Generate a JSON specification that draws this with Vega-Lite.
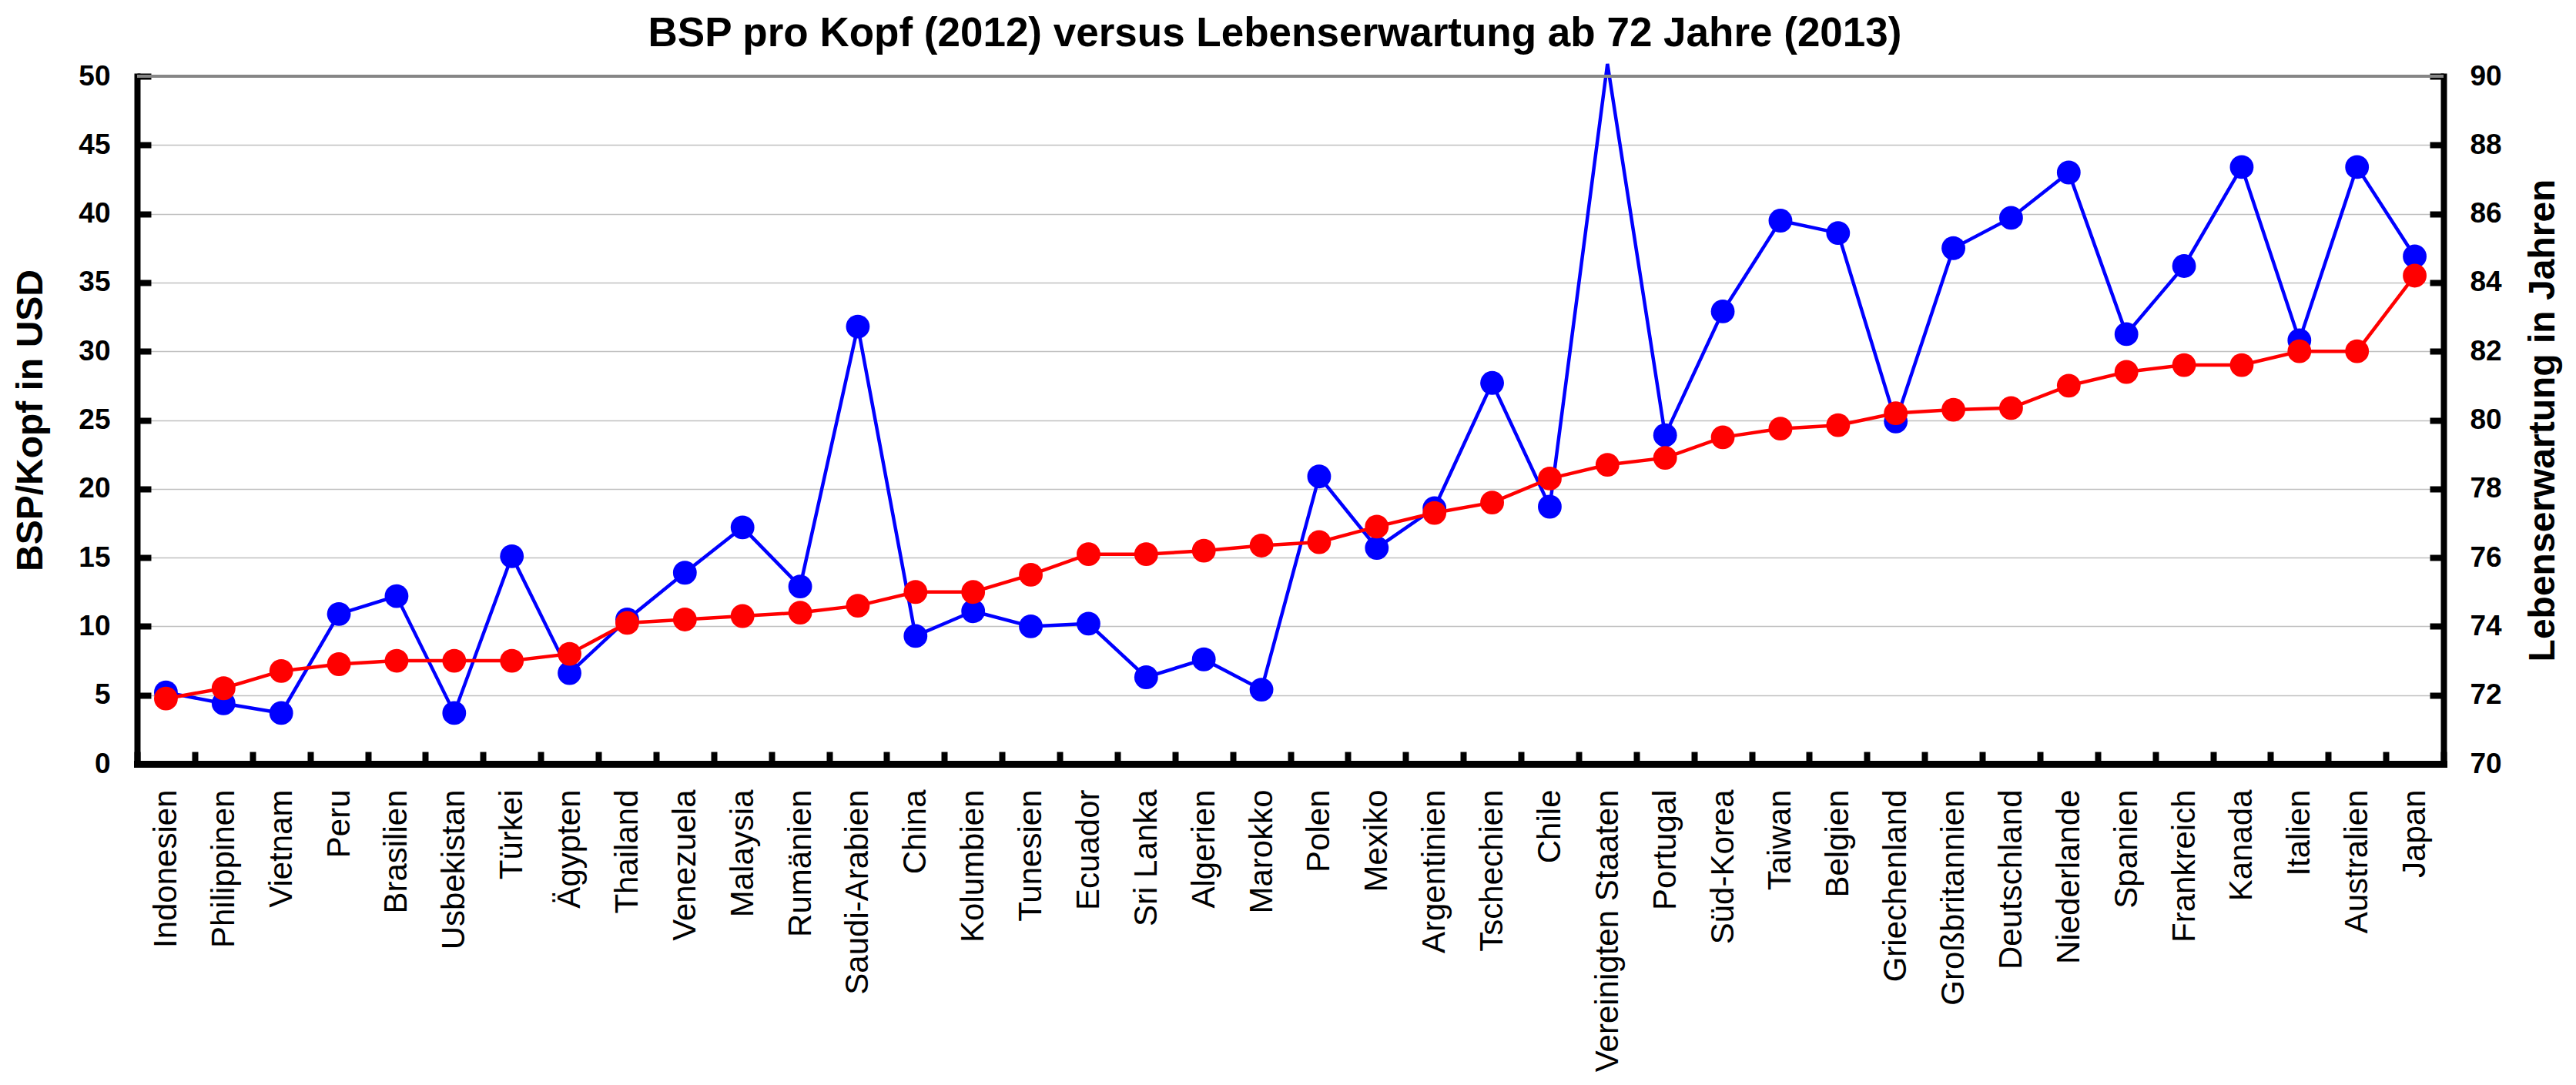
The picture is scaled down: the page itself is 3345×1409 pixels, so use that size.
{
  "$schema": "https://vega.github.io/schema/vega-lite/v6.json",
  "width": 2995,
  "height": 893,
  "autosize": {"type": "none"},
  "padding": {"left": 178, "top": 99, "right": 172, "bottom": 417},
  "background": "white",
  "title": {
    "text": "BSP pro Kopf (2012) versus Lebenserwartung ab 72 Jahre (2013)",
    "font": "Liberation Sans",
    "fontSize": 53,
    "fontWeight": "bold",
    "color": "black",
    "anchor": "middle",
    "dx": -20,
    "dy": 56,
    "offset": 17,
    "baseline": "alphabetic"
  },
  "config": {
    "view": {"stroke": null},
    "axis": {
      "labelFont": "Liberation Sans",
      "titleFont": "Liberation Sans",
      "labelColor": "black",
      "titleColor": "black",
      "domainColor": "black",
      "tickColor": "black",
      "domainWidth": 8,
      "tickWidth": 8,
      "domainCap": "square"
    }
  },
  "datasets": {
    "laender": [
      {"land": "Indonesien", "bsp": 5.2, "le": 71.9},
      {"land": "Philippinen", "bsp": 4.4, "le": 72.2},
      {"land": "Vietnam", "bsp": 3.7, "le": 72.7},
      {"land": "Peru", "bsp": 10.9, "le": 72.9},
      {"land": "Brasilien", "bsp": 12.2, "le": 73.0},
      {"land": "Usbekistan", "bsp": 3.7, "le": 73.0},
      {"land": "Türkei", "bsp": 15.1, "le": 73.0},
      {"land": "Ägypten", "bsp": 6.6, "le": 73.2},
      {"land": "Thailand", "bsp": 10.5, "le": 74.1},
      {"land": "Venezuela", "bsp": 13.9, "le": 74.2},
      {"land": "Malaysia", "bsp": 17.2, "le": 74.3},
      {"land": "Rumänien", "bsp": 12.9, "le": 74.4},
      {"land": "Saudi-Arabien", "bsp": 31.8, "le": 74.6},
      {"land": "China", "bsp": 9.3, "le": 75.0},
      {"land": "Kolumbien", "bsp": 11.1, "le": 75.0},
      {"land": "Tunesien", "bsp": 10.0, "le": 75.5},
      {"land": "Ecuador", "bsp": 10.2, "le": 76.1},
      {"land": "Sri Lanka", "bsp": 6.3, "le": 76.1},
      {"land": "Algerien", "bsp": 7.6, "le": 76.2},
      {"land": "Marokko", "bsp": 5.4, "le": 76.35},
      {"land": "Polen", "bsp": 20.9, "le": 76.45},
      {"land": "Mexiko", "bsp": 15.7, "le": 76.9},
      {"land": "Argentinien", "bsp": 18.6, "le": 77.3},
      {"land": "Tschechien", "bsp": 27.7, "le": 77.6},
      {"land": "Chile", "bsp": 18.7, "le": 78.3},
      {"land": "Vereinigten Staaten", "bsp": 50.9, "le": 78.7},
      {"land": "Portugal", "bsp": 23.9, "le": 78.9},
      {"land": "Süd-Korea", "bsp": 32.9, "le": 79.5},
      {"land": "Taiwan", "bsp": 39.5, "le": 79.75},
      {"land": "Belgien", "bsp": 38.6, "le": 79.85},
      {"land": "Griechenland", "bsp": 24.9, "le": 80.2},
      {"land": "Großbritannien", "bsp": 37.5, "le": 80.3},
      {"land": "Deutschland", "bsp": 39.7, "le": 80.35},
      {"land": "Niederlande", "bsp": 43.0, "le": 81.0},
      {"land": "Spanien", "bsp": 31.25, "le": 81.4},
      {"land": "Frankreich", "bsp": 36.2, "le": 81.6},
      {"land": "Kanada", "bsp": 43.4, "le": 81.6},
      {"land": "Italien", "bsp": 30.8, "le": 82.0},
      {"land": "Australien", "bsp": 43.4, "le": 82.0},
      {"land": "Japan", "bsp": 36.9, "le": 84.2}
    ],
    "oben": [{"wert": 50}]
  },
  "data": {"name": "laender"},
  "layer": [
    {
      "layer": [
        {
          "mark": {"type": "line", "color": "#0000FF", "strokeWidth": 4.5},
          "encoding": {
            "x": {"field": "land", "type": "nominal", "sort": null, "scale": {"type": "band", "paddingInner": 0, "paddingOuter": 0},
              "axis": {"title": null, "labelAngle": -90, "labelFontSize": 42, "labelPadding": 49, "tickSize": -16, "tickWidth": 8, "domainWidth": 9, "domainColor": "black", "tickColor": "black", "tickBand": "extent", "labelLimit": 1000, "labelOverlap": false, "grid": false}},
            "y": {"field": "bsp", "type": "quantitative", "scale": {"domain": [0, 50], "nice": false, "zero": false},
              "axis": {"orient": "left", "title": "BSP/Kopf in USD", "titleFontSize": 48, "titleFontWeight": "bold", "titlePadding": 37, "labelFontSize": 37, "labelFontWeight": "bold", "labelPadding": 53, "tickSize": -18, "tickWidth": 8, "domainWidth": 8, "domainColor": "black", "tickColor": "black", "values": [0, 5, 10, 15, 20, 25, 30, 35, 40, 45, 50], "grid": true, "gridColor": "#c0c0c0", "gridWidth": 1.5}}
          }
        },
        {
          "transform": [{"filter": "datum.bsp <= 50"}],
          "mark": {"type": "point", "shape": "circle", "filled": true, "color": "#0000FF", "size": 950, "opacity": 1},
          "encoding": {
            "x": {"field": "land", "type": "nominal", "sort": null, "scale": {"type": "band", "paddingInner": 0, "paddingOuter": 0},
              "axis": {"title": null, "labelAngle": -90, "labelFontSize": 42, "labelPadding": 49, "tickSize": -16, "tickWidth": 8, "domainWidth": 9, "domainColor": "black", "tickColor": "black", "tickBand": "extent", "labelLimit": 1000, "labelOverlap": false, "grid": false}},
            "y": {"field": "bsp", "type": "quantitative", "scale": {"domain": [0, 50], "nice": false, "zero": false},
              "axis": {"orient": "left", "title": "BSP/Kopf in USD", "titleFontSize": 48, "titleFontWeight": "bold", "titlePadding": 37, "labelFontSize": 37, "labelFontWeight": "bold", "labelPadding": 53, "tickSize": -18, "tickWidth": 8, "domainWidth": 8, "domainColor": "black", "tickColor": "black", "values": [0, 5, 10, 15, 20, 25, 30, 35, 40, 45, 50], "grid": true, "gridColor": "#c0c0c0", "gridWidth": 1.5}}
          }
        },
        {
          "data": {"name": "oben"},
          "mark": {"type": "rule", "color": "#868686", "strokeWidth": 4},
          "encoding": {
            "y": {"field": "wert", "type": "quantitative", "scale": {"domain": [0, 50], "nice": false, "zero": false},
              "axis": {"orient": "left", "title": "BSP/Kopf in USD", "titleFontSize": 48, "titleFontWeight": "bold", "titlePadding": 37, "labelFontSize": 37, "labelFontWeight": "bold", "labelPadding": 53, "tickSize": -18, "tickWidth": 8, "domainWidth": 8, "domainColor": "black", "tickColor": "black", "values": [0, 5, 10, 15, 20, 25, 30, 35, 40, 45, 50], "grid": true, "gridColor": "#c0c0c0", "gridWidth": 1.5}}
          }
        }
      ]
    },
    {
      "layer": [
        {
          "mark": {"type": "line", "color": "#FF0000", "strokeWidth": 4.5},
          "encoding": {
            "x": {"field": "land", "type": "nominal", "sort": null, "scale": {"type": "band", "paddingInner": 0, "paddingOuter": 0},
              "axis": {"title": null, "labelAngle": -90, "labelFontSize": 42, "labelPadding": 49, "tickSize": -16, "tickWidth": 8, "domainWidth": 9, "domainColor": "black", "tickColor": "black", "tickBand": "extent", "labelLimit": 1000, "labelOverlap": false, "grid": false}},
            "y": {"field": "le", "type": "quantitative", "scale": {"domain": [70, 90], "nice": false, "zero": false},
              "axis": {"orient": "right", "title": "Lebenserwartung in Jahren", "titleAngle": 270, "titleBaseline": "top", "titleFontSize": 48, "titleFontWeight": "bold", "titlePadding": 30, "labelFontSize": 37, "labelFontWeight": "bold", "labelPadding": 52, "tickSize": -18, "tickWidth": 8, "domainWidth": 8, "domainColor": "black", "tickColor": "black", "values": [70, 72, 74, 76, 78, 80, 82, 84, 86, 88, 90], "grid": false}}
          }
        },
        {
          "mark": {"type": "point", "shape": "circle", "filled": true, "color": "#FF0000", "size": 950, "opacity": 1},
          "encoding": {
            "x": {"field": "land", "type": "nominal", "sort": null, "scale": {"type": "band", "paddingInner": 0, "paddingOuter": 0},
              "axis": {"title": null, "labelAngle": -90, "labelFontSize": 42, "labelPadding": 49, "tickSize": -16, "tickWidth": 8, "domainWidth": 9, "domainColor": "black", "tickColor": "black", "tickBand": "extent", "labelLimit": 1000, "labelOverlap": false, "grid": false}},
            "y": {"field": "le", "type": "quantitative", "scale": {"domain": [70, 90], "nice": false, "zero": false},
              "axis": {"orient": "right", "title": "Lebenserwartung in Jahren", "titleAngle": 270, "titleBaseline": "top", "titleFontSize": 48, "titleFontWeight": "bold", "titlePadding": 30, "labelFontSize": 37, "labelFontWeight": "bold", "labelPadding": 52, "tickSize": -18, "tickWidth": 8, "domainWidth": 8, "domainColor": "black", "tickColor": "black", "values": [70, 72, 74, 76, 78, 80, 82, 84, 86, 88, 90], "grid": false}}
          }
        }
      ]
    }
  ],
  "resolve": {"scale": {"y": "independent"}}
}
